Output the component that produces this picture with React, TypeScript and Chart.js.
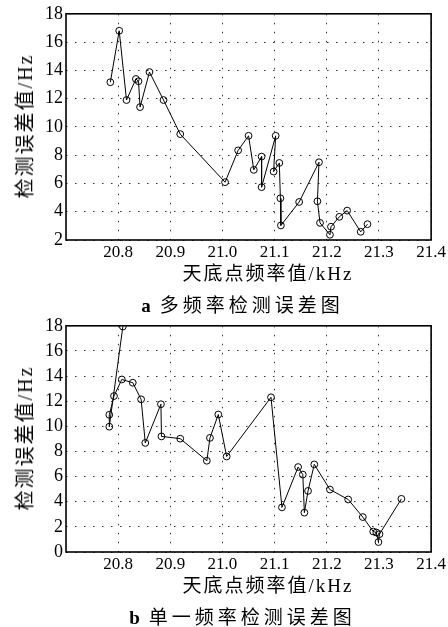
import React, { useEffect, useRef } from "react";
import { Chart, registerables } from "chart.js";

Chart.register(...registerables);

// ---- Data ----
const xTicks = [20.8, 20.9, 21.0, 21.1, 21.2, 21.3, 21.4];
const yTicksMulti = [2, 4, 6, 8, 10, 12, 14, 16, 18];
const yTicksSingle = [0, 2, 4, 6, 8, 10, 12, 14, 16, 18];

// a: multi-frequency detection error
const multiX = [20.785, 20.802, 20.816, 20.834, 20.839, 20.842, 20.860, 20.887, 20.919, 21.005,
  21.030, 21.050, 21.060, 21.075, 21.075, 21.102, 21.098, 21.109, 21.111, 21.112,
  21.147, 21.185, 21.182, 21.187, 21.206, 21.208, 21.224, 21.239, 21.265, 21.278];
const multiY = [13.16, 16.8, 11.9, 13.39, 13.23, 11.4, 13.88, 11.9, 9.49, 6.09,
  8.34, 9.37, 6.96, 7.9, 5.74, 9.37, 6.84, 7.45, 4.95, 3.03,
  4.69, 7.5, 4.74, 3.21, 2.37, 2.94, 3.64, 4.08, 2.58, 3.12];

// b: single-frequency detection error
const singleX = [20.809, 20.783, 20.783, 20.792, 20.807, 20.828, 20.844, 20.852, 20.882, 20.883,
  20.919, 20.970, 20.976, 20.992, 21.008, 21.093, 21.114, 21.145, 21.154, 21.157,
  21.164, 21.176, 21.206, 21.241, 21.269, 21.289, 21.295, 21.299, 21.301, 21.343];
const singleY = [17.94, 9.97, 10.92, 12.41, 13.73, 13.47, 12.15, 8.68, 11.76, 9.2,
  9.02, 7.26, 9.08, 10.94, 7.6, 12.31, 3.55, 6.76, 6.16, 3.13,
  4.86, 6.97, 4.97, 4.18, 2.78, 1.63, 1.55, 0.79, 1.42, 4.23];

const yTitle = "检测误差值/Hz";
const xTitle = "天底点频率值/kHz";
const captionA = ["a", "多频率检测误差图"];
const captionB = ["b", "单一频率检测误差图"];

const SERIF = "'Liberation Serif', 'DejaVu Serif', 'Noto Sans CJK SC', serif";
const CJK = "'Liberation Serif', 'Noto Sans CJK SC', serif";

const boxPlugin = {
  id: "boxFrame",
  afterDraw(chart: any) {
    const { ctx, chartArea } = chart;
    ctx.save();
    ctx.strokeStyle = "#000";
    ctx.lineWidth = 1.6;
    ctx.strokeRect(chartArea.left, chartArea.top, chartArea.right - chartArea.left, chartArea.bottom - chartArea.top);
    ctx.restore();
  },
};

function Panel(props: { xs: number[]; ys: number[]; yTicks: number[]; top: number; caption: string[] }) {
  const ref = useRef<HTMLCanvasElement>(null);
  useEffect(() => {
    const canvas = ref.current!;
    const data = props.xs.map((x, i) => ({ x, y: props.ys[i] }));
    const yt = props.yTicks;
    const chart = new Chart(canvas, {
      type: "scatter",
      data: {
        datasets: [
          {
            data,
            showLine: true,
            borderColor: "#000",
            borderWidth: 1,
            pointRadius: 3.4,
            pointBorderWidth: 1,
            pointBorderColor: "#000",
            pointBackgroundColor: "rgba(0,0,0,0)",
            tension: 0,
          },
        ],
      },
      options: {
        animation: false,
        responsive: false,
        devicePixelRatio: 1,
        layout: { padding: { left: 0, top: 12, right: 11, bottom: 0 } },
        plugins: { legend: { display: false }, tooltip: { enabled: false }, title: { display: false } },
        scales: {
          x: {
            type: "linear",
            min: 20.7,
            max: 21.4,
            afterBuildTicks: (s: any) => {
              s.ticks = xTicks.map((v) => ({ value: v }));
            },
            afterFit: (s: any) => {
              s.height = 50;
            },
            ticks: {
              padding: 2,
              color: "#000",
              font: { family: SERIF, size: 17 },
              maxRotation: 0,
              autoSkip: false,
              callback: (v: any) => Number(v).toFixed(1),
            },
            grid: { color: "#333", lineWidth: 1, drawTicks: false },
            border: { display: false, dash: [1.5, 7.5] },
          },
          y: {
            type: "linear",
            min: yt[0],
            max: yt[yt.length - 1],
            afterBuildTicks: (s: any) => {
              s.ticks = yt.map((v) => ({ value: v }));
            },
            afterFit: (s: any) => {
              s.width = 66;
            },
            ticks: {
              padding: 3,
              color: "#000",
              font: { family: SERIF, size: 18 },
              autoSkip: false,
            },
            grid: { color: "#333", lineWidth: 1, drawTicks: false },
            border: { display: false, dash: [1.5, 7.5] },
          },
        },
      },
      plugins: [boxPlugin],
    });
    return () => chart.destroy();
  }, []);

  return (
    <div style={{ position: "absolute", left: 0, top: props.top, width: 448, height: 312 }}>
      <canvas ref={ref} width={448} height={290} style={{ position: "absolute", left: 0, top: 0, width: 448, height: 290 }} />
      <div
        style={{
          position: "absolute",
          left: 25,
          top: 126,
          transform: "translate(-50%, -50%) rotate(-90deg)",
          whiteSpace: "nowrap",
          fontFamily: CJK,
          fontSize: 20,
          letterSpacing: 2,
          lineHeight: 1,
          color: "#000",
        }}
      >
        {yTitle}
      </div>
      <div
        style={{
          position: "absolute",
          left: 268,
          top: 272.5,
          transform: "translate(-50%, -50%)",
          whiteSpace: "nowrap",
          fontFamily: CJK,
          fontSize: 19,
          letterSpacing: 2,
          lineHeight: 1,
          color: "#000",
        }}
      >
        {xTitle}
      </div>
      <div
        style={{
          position: "absolute",
          left: 242.5,
          top: 304.5,
          transform: "translate(-50%, -50%)",
          whiteSpace: "nowrap",
          fontFamily: CJK,
          fontSize: 19,
          lineHeight: 1,
          color: "#000",
        }}
      >
        <span style={{ fontWeight: "bold", marginRight: 9 }}>{props.caption[0]}</span>
        <span style={{ letterSpacing: 4 }}>{props.caption[1]}</span>
      </div>
    </div>
  );
}

export default function App() {
  return (
    <div style={{ position: "absolute", left: 0, top: 0, width: 448, height: 627, background: "#fff" }}>
      <Panel xs={multiX} ys={multiY} yTicks={yTicksMulti} top={0} caption={captionA} />
      <Panel xs={singleX} ys={singleY} yTicks={yTicksSingle} top={312} caption={captionB} />
    </div>
  );
}
